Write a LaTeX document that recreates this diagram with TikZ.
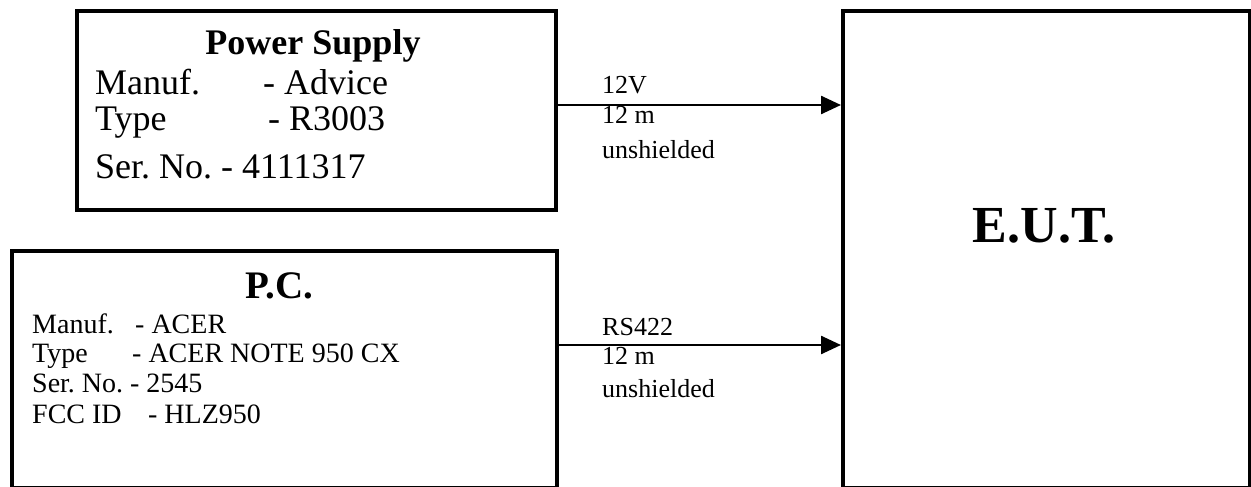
\documentclass[tikz,border=0pt]{standalone}
\usepackage{fontspec}
\setmainfont{Liberation Serif}
\usetikzlibrary{arrows.meta, positioning}
\frenchspacing
\tikzset{
	box/.style={draw, line width=4pt, rectangle, inner sep=0pt, anchor=north west}, % the three units
	title/.style={anchor=base, font=\bfseries},
	info/.style={anchor=base west, inner sep=0pt},
	cable/.style={line width=2.5pt, -{Triangle[length=20pt, width=18pt]}}, % the connecting cables
}

\begin{document}
\begin{tikzpicture}[x=1pt, y=-1pt]
	\clip (0,0) rectangle (1251,487);
	\fill[white] (0,0) rectangle (1251,487);

	% units
	\node[box, minimum width=479pt, minimum height=199pt] (ps) at (74.5,9) {};
	\node[box, minimum width=544.5pt, minimum height=237pt] (pc) at (10,249) {};
	\node[box, minimum width=407pt, minimum height=477pt] (eut) at (841,9) {};

	% power supply text
	\node[title, font=\fontsize{36}{42}\selectfont\bfseries] (ps-title) at (313,55) {Power Supply};
	\node[info, font=\fontsize{36}{42}\selectfont] (ps-manuf) at (95,95) {\makebox[168pt][l]{Manuf.}- Advice};
	\node[info, font=\fontsize{36}{42}\selectfont] (ps-type) at (95,130) {\makebox[173pt][l]{Type}- R3003};
	\node[info, font=\fontsize{36}{42}\selectfont] (ps-ser) at (95,178) {Ser. No. - 4111317};

	% p.c. text
	\node[title, font=\fontsize{39}{45}\selectfont\bfseries] (pc-title) at (279,298) {P.C.};
	\node[info, font=\fontsize{28}{32}\selectfont] (pc-manuf) at (32,333) {\makebox[103pt][l]{Manuf.}- ACER};
	\node[info, font=\fontsize{28}{32}\selectfont] (pc-type) at (32,362) {\makebox[100pt][l]{Type}- ACER NOTE 950 CX};
	\node[info, font=\fontsize{28}{32}\selectfont] (pc-ser) at (32,392) {Ser. No. - 2545};
	\node[info, font=\fontsize{28}{32}\selectfont] (pc-fcc) at (32,423) {\makebox[116pt][l]{FCC ID}- HLZ950};

	% e.u.t. text
	\node[title, font=\fontsize{52}{60}\selectfont\bfseries] (eut-title) at (1044,242) {E.U.T.};

	% cables
	\draw[cable] ([yshift=5.5pt]ps.east) -- ([yshift=5.5pt]ps.east -| eut.west);
	\draw[cable] ([yshift=24.5pt]pc.east) -- ([yshift=24.5pt]pc.east -| eut.west);

	\node[info, font=\fontsize{26}{30}\selectfont] (psv) at (602,94) {12V};
	\node[info, font=\fontsize{26}{30}\selectfont] (psl) at (602,124) {12 m};
	\node[info, font=\fontsize{26}{30}\selectfont] (pss) at (602,158) {unshielded};
	\node[info, font=\fontsize{26}{30}\selectfont] (pcv) at (602,335) {RS422};
	\node[info, font=\fontsize{26}{30}\selectfont] (pcl) at (602,364) {12 m};
	\node[info, font=\fontsize{26}{30}\selectfont] (pcs) at (602,397) {unshielded};
\end{tikzpicture}
\end{document}
